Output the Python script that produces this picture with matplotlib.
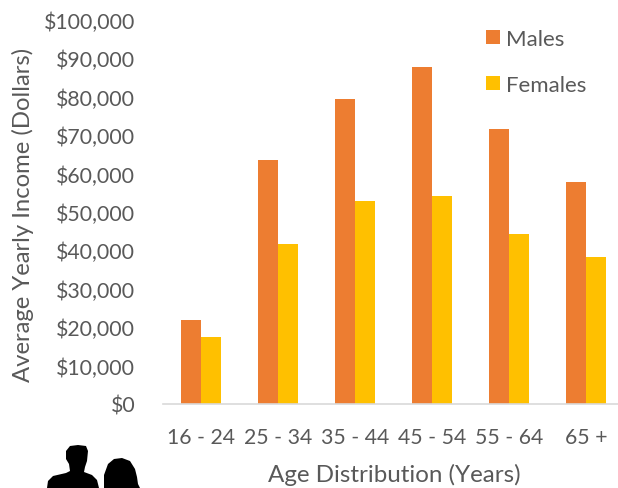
import numpy as np
import matplotlib
matplotlib.use('Agg')
import matplotlib.pyplot as plt
from matplotlib.patches import Polygon

# data
age_groups = ['16 - 24', '25 - 34', '35 - 44', '45 - 54', '55 - 64', '65 +']
males = [21900, 63500, 79500, 87800, 71600, 57800]
females = [17500, 41700, 52900, 54200, 44300, 38100]
y_ticks = list(range(0, 100001, 10000))

plt.rcParams['font.family'] = ['Lato', 'DejaVu Sans']
text_col = '#595959'

fig = plt.figure(figsize=(6.18, 4.89), dpi=100)
ax = fig.add_axes([163/618, 1-404.8/489, (618-163)/618, 384/489])

x = np.arange(len(age_groups))
w = 0.26
ax.bar(x-w/2, males, w, color='#ED7D31', label='Males')
ax.bar(x+w/2, females, w, color='#FFC000', label='Females')

ax.set_xlim(-0.5, 5.417)
ax.set_ylim(0, 100000)
ax.set_yticks(y_ticks)
ax.set_yticklabels(['${:,}'.format(v) for v in y_ticks])
ax.set_xticks(x)
ax.set_xticklabels(age_groups)
ax.tick_params(axis='both', length=0, labelsize=15.3, labelcolor=text_col)
ax.tick_params(axis='x', pad=16.5)
ax.tick_params(axis='y', pad=20)
for s in ['top', 'right', 'left']:
    ax.spines[s].set_visible(False)
ax.spines['bottom'].set_color('#D9D9D9')
ax.spines['bottom'].set_linewidth(1.2)

fig.text(23/618, 1-215/489, 'Average Yearly Income (Dollars)', rotation=90, ha='center', va='center', fontsize=17.2, color=text_col)
fig.text(394/618, 1-475/489, 'Age Distribution (Years)', ha='center', va='center', fontsize=17.4, color=text_col)

ax.legend(loc='upper left', bbox_to_anchor=(0.69, 1.0), frameon=False, fontsize=16, labelspacing=1.18,
          handlelength=0.64, handleheight=0.64, handletextpad=0.28, labelcolor=text_col, borderaxespad=0)

# silhouettes at bottom left
sil = fig.add_axes([0, 0, 1, 1], facecolor='none')
sil.set_xlim(0, 618)
sil.set_ylim(489, 0)
sil.axis('off')
man = [(47, 489), (48, 482), (53, 477), (66, 474), (70, 472), (69, 465), (66, 460), (66, 452), (70, 447),
       (78, 446), (86, 447), (88, 452), (87, 462), (85, 468), (84, 473), (92, 476), (97, 481), (99, 489)]
woman = [(104, 489), (104, 476), (108, 465), (114, 460), (122, 459), (130, 462), (135, 470), (137, 478),
         (138, 485), (140, 489)]
sil.add_patch(Polygon(man, color='black', lw=0))
sil.add_patch(Polygon(woman, color='black', lw=0))

fig.savefig('out.png', dpi=100)
